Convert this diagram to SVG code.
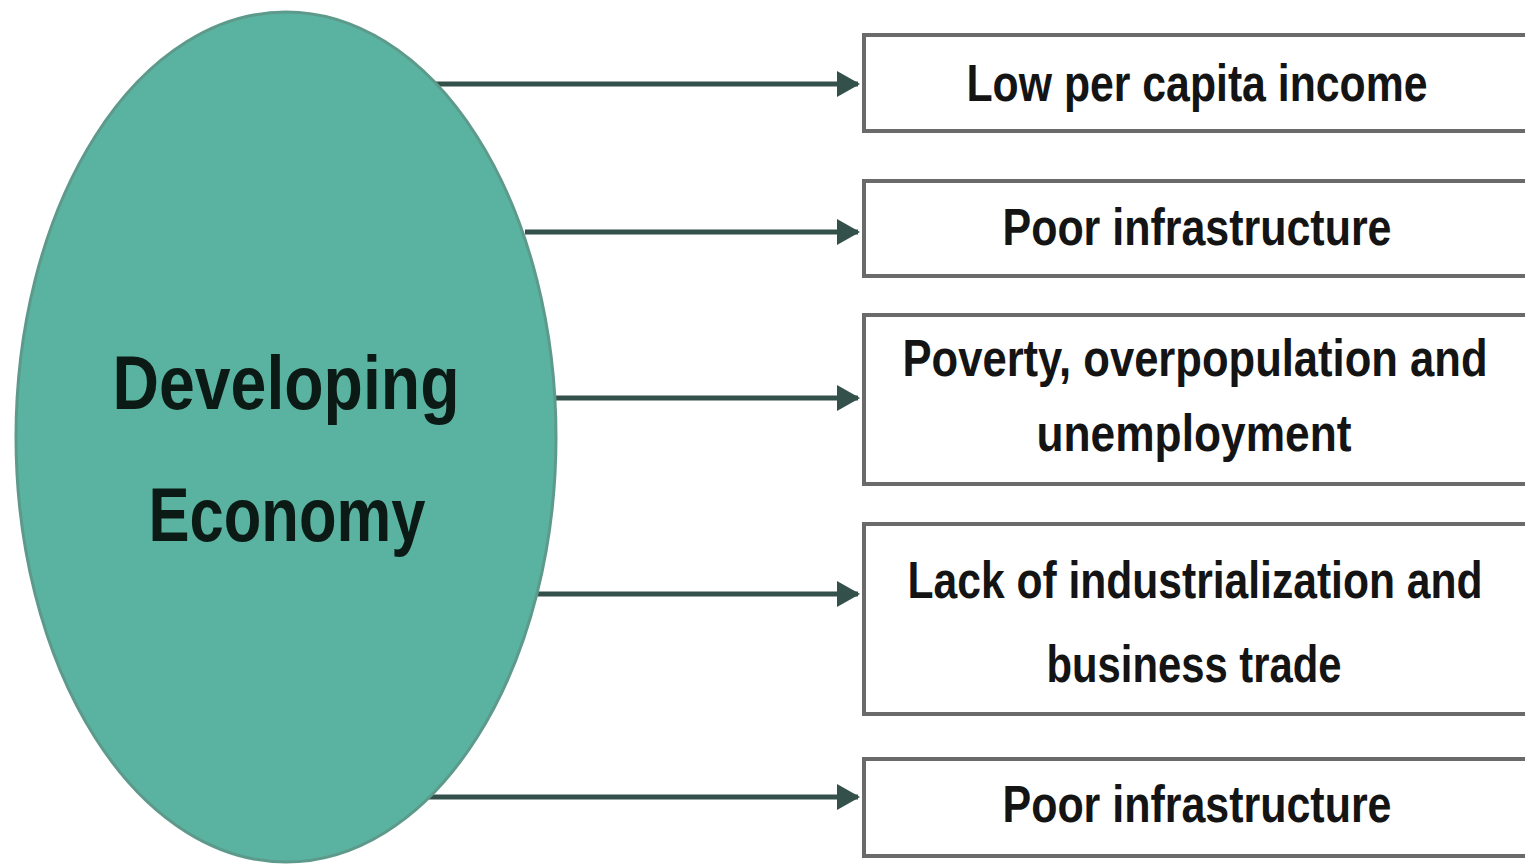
<svg xmlns="http://www.w3.org/2000/svg" width="1525" height="865" viewBox="0 0 1525 865">
<style>
.box{fill:#ffffff;stroke:#6a6a6a;stroke-width:4}
.t{font-family:"Liberation Sans",Arial,sans-serif;font-weight:bold;fill:#141414;font-size:52px}
.big{font-family:"Liberation Sans",Arial,sans-serif;font-weight:bold;fill:#0c1a16;font-size:76px}
.conn{stroke:#34504a;stroke-width:5;fill:none;marker-end:url(#ah)}
</style>
<defs>
<marker id="ah" markerWidth="6" markerHeight="6" refX="4.2" refY="3" orient="auto" markerUnits="strokeWidth">
<path d="M0,0.4 L4.6,3 L0,5.6 Z" fill="#34504a"/>
</marker>
</defs>
<rect width="1525" height="865" fill="#ffffff"/>
<g id="connectors">
<line class="conn" x1="428" y1="84" x2="858" y2="84"/>
<line class="conn" x1="525" y1="232" x2="858" y2="232"/>
<line class="conn" x1="554" y1="398" x2="858" y2="398"/>
<line class="conn" x1="533" y1="594" x2="858" y2="594"/>
<line class="conn" x1="428" y1="797" x2="858" y2="797"/>
</g>
<g id="developing-economy">
<ellipse cx="286" cy="437" rx="270" ry="425" fill="#5ab3a0" stroke="#5e9a8c" stroke-width="3"/>
<text class="big" x="286" y="409" text-anchor="middle" textLength="347" lengthAdjust="spacingAndGlyphs">Developing</text>
<text class="big" x="287" y="541" text-anchor="middle" textLength="277" lengthAdjust="spacingAndGlyphs">Economy</text>
</g>
<g id="box1">
<rect class="box" x="864" y="35" width="680" height="96"/>
<text class="t" x="1197" y="101" text-anchor="middle" textLength="461" lengthAdjust="spacingAndGlyphs">Low per capita income</text>
</g>
<g id="box2">
<rect class="box" x="864" y="181" width="680" height="95"/>
<text class="t" x="1197" y="245" text-anchor="middle" textLength="389" lengthAdjust="spacingAndGlyphs">Poor infrastructure</text>
</g>
<g id="box3">
<rect class="box" x="864" y="315" width="680" height="169"/>
<text class="t" x="1195" y="376" text-anchor="middle" textLength="585" lengthAdjust="spacingAndGlyphs">Poverty, overpopulation and</text>
<text class="t" x="1194" y="451" text-anchor="middle" textLength="315" lengthAdjust="spacingAndGlyphs">unemployment</text>
</g>
<g id="box4">
<rect class="box" x="864" y="524" width="680" height="190"/>
<text class="t" x="1195" y="598" text-anchor="middle" textLength="575" lengthAdjust="spacingAndGlyphs">Lack of industrialization and</text>
<text class="t" x="1194" y="682" text-anchor="middle" textLength="295" lengthAdjust="spacingAndGlyphs">business trade</text>
</g>
<g id="box5">
<rect class="box" x="864" y="759" width="680" height="97"/>
<text class="t" x="1197" y="822" text-anchor="middle" textLength="389" lengthAdjust="spacingAndGlyphs">Poor infrastructure</text>
</g>
</svg>
